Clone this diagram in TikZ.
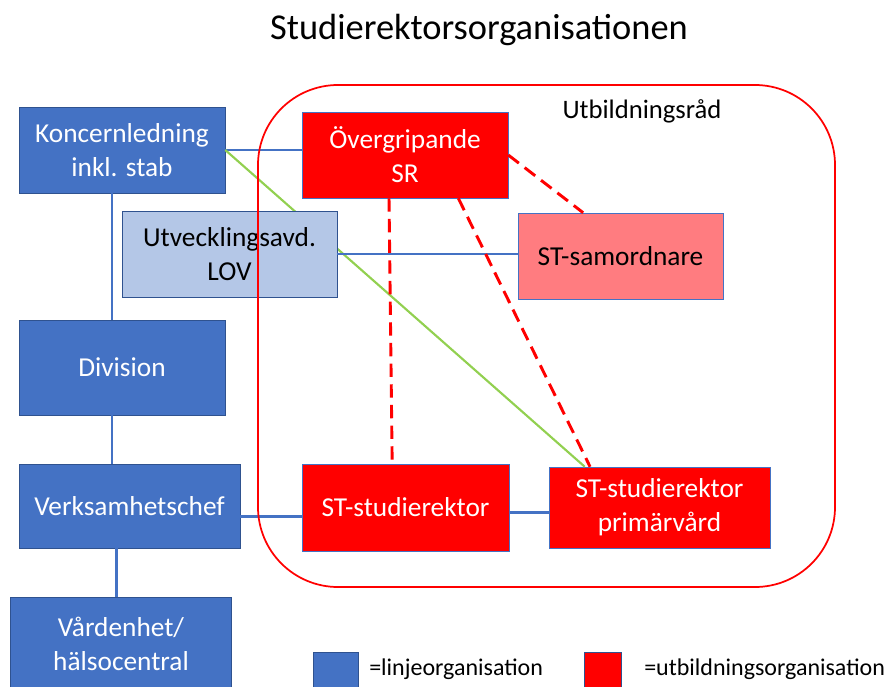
\documentclass[tikz,border=0pt]{standalone}
\usepackage{fontspec}
\setmainfont{Carlito}
\usepackage{tikz}
\usetikzlibrary{shapes,positioning,calc}
\definecolor{linjeblue}{RGB}{68,114,196}
\definecolor{linjeedge}{RGB}{47,82,143}
\definecolor{utvblue}{RGB}{180,199,231}
\definecolor{samrosa}{RGB}{255,124,128}
\definecolor{stgreen}{RGB}{146,208,80}
\tikzset{
    block/.style={rectangle, draw=linjeedge, fill=linjeblue, text=white, align=center, font=\fontsize{20.5}{25.5}\selectfont, inner sep=2pt},
    redblock/.style={block, draw=linjeblue, fill=red},
    legendbox/.style={rectangle, draw=linjeedge, minimum width=34pt, minimum height=28.5pt},
    line/.style={draw, linjeblue, line width=2.2pt},
    dashline/.style={draw, red, line width=2.2pt, dash pattern=on 10pt off 5.5pt}
}

\begin{document}
\begin{tikzpicture}[x=0.75pt, y=-0.75pt]
    \useasboundingbox (0,0) rectangle (888,686);

    % Title
    \node (title) at (479,30) {\fontsize{27.3}{32}\selectfont Studierektorsorganisationen};
    \node [font=\fontsize{20}{24}\selectfont] (rad) at (642,111) {Utbildningsråd};

    % Line organisation
    \node [block, minimum width=154.5pt, minimum height=64.5pt] (kl) at (122,150) {Koncernledning\\inkl. stab};
    \node [block, minimum width=154.5pt, minimum height=71.25pt] (div) at (122,367.5) {Division};
    \node [block, minimum width=165.75pt, minimum height=63pt] (vc) at (129.5,506) {Verksamhetschef};
    \node [block, minimum width=165.75pt, minimum height=70.5pt] (ve) at (121,644) {Vårdenhet/\\hälsocentral};

    % Education organisation
    \node [redblock, minimum width=154.5pt, minimum height=64.5pt] (osr) at (405,155) {Övergripande\\SR};
    \node [redblock, fill=samrosa, text=black, minimum width=153.75pt, minimum height=64.5pt] (sam) at (620.5,256) {ST-samordnare};
    \node [redblock, minimum width=155.25pt, minimum height=65.25pt] (str) at (405.5,507.5) {ST-studierektor};
    \node [redblock, minimum width=165.75pt, minimum height=60.75pt] (strp) at (659.5,507.5) {ST-studierektor\\primärvård};

    % Legend
    \node [legendbox, fill=linjeblue] (leg1) at (336,671) {};
    \node [font=\fontsize{18}{22}\selectfont, anchor=west, inner sep=0pt] (leg1text) at (369,669) {=linjeorganisation};
    \node [legendbox, fill=red, minimum width=27.75pt] (leg2) at (603,671) {};
    \node [font=\fontsize{18}{22}\selectfont, anchor=west, inner sep=0pt] (leg2text) at (644,669) {=utbildningsorganisation};

    % Connections
    \path [line] ([xshift=-7.5pt]kl.south) -- ([xshift=-7.5pt]div.north);
    \path [line] ([xshift=-7.5pt]div.south) -- ([xshift=-7.5pt]div.south |- vc.north);
    \path [line] ([xshift=-10pt]vc.south) -- ([xshift=-10pt]vc.south |- ve.north);
    \path [line] (kl.east) -- (kl.east -| osr.west);
    \path [draw, stgreen, line width=1.6pt] (kl.east) -- ([xshift=27pt]strp.north west);

    % Utvecklingsavd. over the lines
    \node [block, fill=utvblue, text=black, minimum width=161.25pt, minimum height=64.5pt] (utv) at (229.5,254) {Utvecklingsavd.\\LOV};
    \path [line] (utv.east) -- (utv.east -| sam.west);
    \path [line] ([yshift=-8pt]vc.east) -- ([yshift=-8pt]vc.east -| str.west);
    \path [line] ([yshift=-4pt]str.east) -- ([yshift=-4pt]str.east -| strp.west);

    % Utbildningsråd frame
    \draw [red, line width=1.3pt, rounded corners=60pt] (258,85) rectangle (835,587);

    \path [dashline] ([xshift=-12pt]osr.south) -- ([xshift=-10pt]str.north);
    \path [dashline] ([xshift=40pt]osr.south) -- ([xshift=31pt]strp.north west);
    \path [dashline] (osr.east) -- ([xshift=-28pt]sam.north);
\end{tikzpicture}
\end{document}
